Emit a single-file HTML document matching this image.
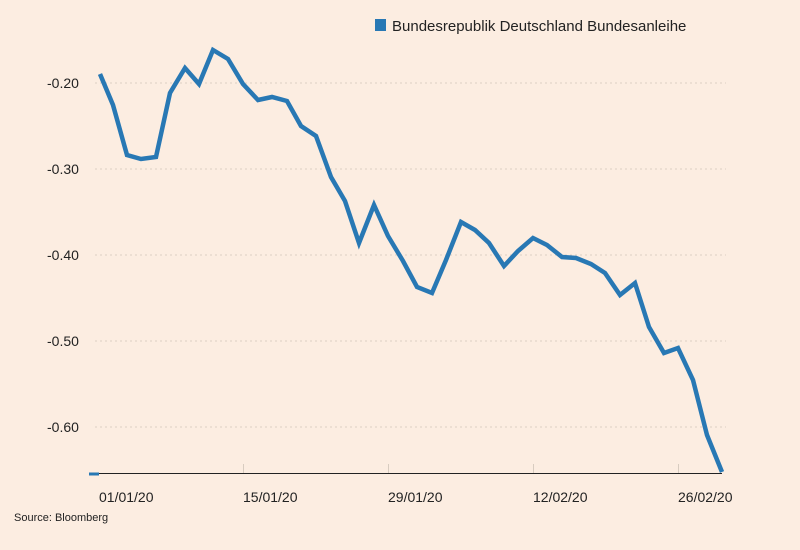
<!DOCTYPE html>
<html><head><style>
body{margin:0;background:#fcede1;}
svg{display:block;font-family:"Liberation Sans",sans-serif;}
</style></head><body>
<svg width="800" height="550" viewBox="0 0 800 550">
<rect width="800" height="550" fill="#fcede1"/>
<g stroke="#dccfc3" stroke-width="1" stroke-dasharray="2,3">
<line x1="95" y1="83" x2="726" y2="83"/>
<line x1="95" y1="169" x2="726" y2="169"/>
<line x1="95" y1="255" x2="726" y2="255"/>
<line x1="95" y1="341" x2="726" y2="341"/>
<line x1="95" y1="427" x2="726" y2="427"/>
</g>
<g font-size="14" fill="#222">
<text x="47" y="88">-0.20</text>
<text x="47" y="174">-0.30</text>
<text x="47" y="260">-0.40</text>
<text x="47" y="346">-0.50</text>
<text x="47" y="432">-0.60</text>
</g>
<line x1="90" y1="473.5" x2="722" y2="473.5" stroke="#222" stroke-width="1"/>
<g stroke="#d8ccc0"><line x1="243.5" y1="464" x2="243.5" y2="473"/><line x1="388.5" y1="464" x2="388.5" y2="473"/><line x1="533.5" y1="464" x2="533.5" y2="473"/><line x1="678.5" y1="464" x2="678.5" y2="473"/></g>
<g font-size="14" fill="#222">
<text x="99" y="502">01/01/20</text>
<text x="243" y="502">15/01/20</text>
<text x="388" y="502">29/01/20</text>
<text x="533" y="502">12/02/20</text>
<text x="678" y="502">26/02/20</text>
</g>
<text x="14" y="521" font-size="11" fill="#222">Source: Bloomberg</text>
<rect x="375" y="19" width="11" height="12" fill="#2878b4"/>
<text x="392" y="31" font-size="15" fill="#222">Bundesrepublik Deutschland Bundesanleihe</text>
<line x1="89" y1="474" x2="99" y2="474" stroke="#2878b4" stroke-width="3"/>
<polyline fill="none" stroke="#2878b4" stroke-width="4.5" stroke-linejoin="miter" points="100,74 113,105 127,155 141,159 156,157 170,93 185,68 199,84 213,50 228,59 243,84 258,100 272,97 287,101 301,126 316,136 331,177 345,201 359,243 374,205 388,236 403,261 417,287 432,293 446,260 461,222 475,230 489,243 504,266 518,251 533,238 547,245 562,257 576,258 591,264 605,273 620,295 635,283 649,327 664,353 678,348 693,380 707,435 722,472"/>
</svg>
</body></html>
